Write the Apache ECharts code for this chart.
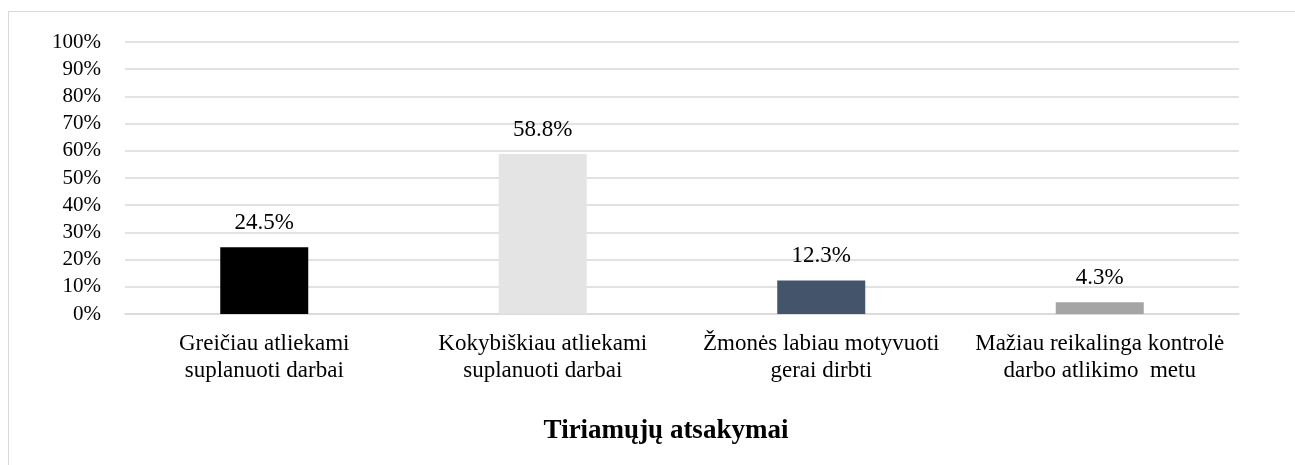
<!DOCTYPE html>
<html>
<head>
<meta charset="utf-8">
<script src="https://cdn.jsdelivr.net/npm/echarts@6/dist/echarts.min.js"></script>
<style>
  html, body { margin: 0; padding: 0; background: #fff; }
  #main { width: 1295px; height: 465px; }
</style>
</head>
<body>
<div id="main"></div>
<script>
var categories = [
  'Greičiau atliekami\nsuplanuoti darbai',
  'Kokybiškiau atliekami\nsuplanuoti darbai',
  'Žmonės labiau motyvuoti\ngerai dirbti',
  'Mažiau reikalinga kontrolė\ndarbo atlikimo  metu'
];
var values = [24.5, 58.8, 12.3, 4.3];
var barColors = ['#000000', '#e4e4e4', '#44546a', '#a5a5a5'];
var axisTitle = 'Tiriamųjų atsakymai';

var font = '"Liberation Serif", "Times New Roman", serif';
var chart = echarts.init(document.getElementById('main'));

var data = [];
for (var i = 0; i < values.length; i++) {
  data.push({ value: values[i], itemStyle: { color: barColors[i] } });
}

chart.setOption({
  animation: false,
  graphic: [{
    type: 'rect',
    shape: { x: 8.5, y: 11.5, width: 1400, height: 600 },
    style: { fill: 'none', stroke: '#d9d9d9', lineWidth: 1 },
    silent: true
  }],
  grid: { left: 125, right: 56, top: 42, bottom: 151 },
  xAxis: {
    type: 'category',
    data: categories,
    name: axisTitle,
    nameLocation: 'middle',
    nameGap: 104,
    nameTextStyle: { fontFamily: font, fontSize: 27, fontWeight: 'bold', color: '#000', padding: [0, 32, 0, 0] },
    axisLine: { lineStyle: { color: '#d9d9d9', width: 1.5 } },
    axisTick: { show: false },
    axisLabel: { fontFamily: font, fontSize: 23, color: '#000', lineHeight: 27, margin: 16, interval: 0 }
  },
  yAxis: {
    type: 'value',
    min: 0,
    max: 100,
    interval: 10,
    axisLine: { show: false },
    axisTick: { show: false },
    splitLine: { lineStyle: { color: '#d9d9d9', width: 1.5 } },
    axisLabel: { fontFamily: font, fontSize: 21, color: '#000', margin: 24, formatter: '{value}%' }
  },
  series: [{
    type: 'bar',
    data: data,
    barWidth: 88,
    label: {
      show: true,
      position: 'top',
      distance: 13,
      fontFamily: font,
      fontSize: 23,
      color: '#000',
      formatter: function (p) { return p.value.toFixed(1) + '%'; }
    }
  }]
});
</script>
</body>
</html>
